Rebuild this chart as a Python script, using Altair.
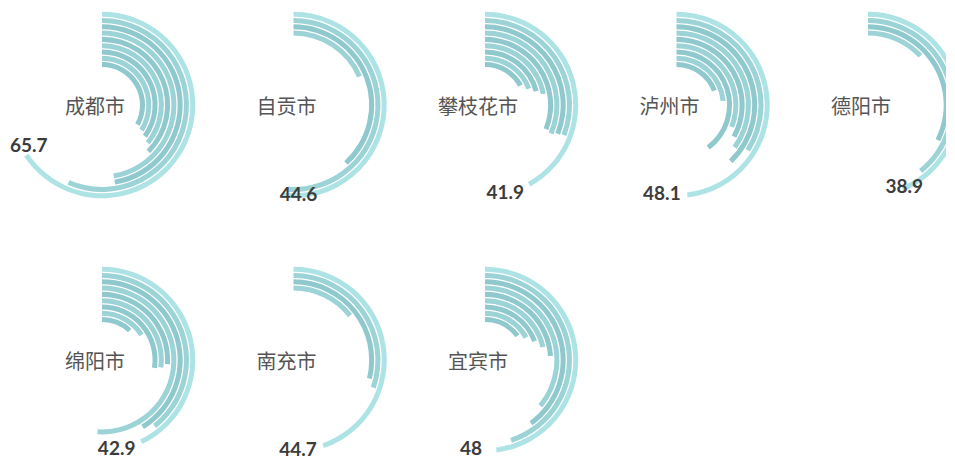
import math
import altair as alt
import pandas as pd

# ---- data ----
cities = ["成都市", "自贡市", "攀枝花市", "泸州市", "德阳市", "绵阳市", "南充市", "宜宾市"]
labels = [65.7, 44.6, 41.9, 48.1, 38.9, 42.9, 44.7, 48]

# ring values, innermost -> outermost (9 ring slots; None = no ring)
chengdu   = [33.0, 34.0, 35.0, 36.0, 37.5, 47.4, 47.4, 56.5, 65.7]
zigong    = [None, None, None, None, None, 18.5, 38.3, 51.0, 52.0]
panzhihua = [17.0, 19.3, 20.8, 22.0, 31.0, 31.5, 31.0, 30.8, 41.9]
luzhou    = [19.2, 23.6, 39.8, 31.0, 33.0, 35.0, 37.8, 34.0, 48.1]
deyang    = [None, None, None, None, None, 13.0, 32.4, 39.3, 43.8]
mianyang  = [12.0, 16.0, 27.4, 27.0, 26.0, 51.0, 41.3, 39.3, 42.9]
nanchong  = [None, None, None, None, None, 14.4, 28.8, 30.3, 44.7]
yibin     = [14.8, 17.0, 19.2, 21.5, 24.0, 36.0, 40.0, 45.0, 48.0]

series = [chengdu, zigong, panzhihua, luzhou, deyang, mianyang, nanchong, yibin]

rows = []
for city, lab, vals in zip(cities, labels, series):
    for ring, v in enumerate(vals):
        if v is None:
            continue
        rows.append({"city": city, "ring": ring, "value": v, "zero": 0,
                     "label": lab, "outer": ring == len(vals) - 1})
df = pd.DataFrame(rows)

theta_scale = alt.Scale(domain=[0, 100], range=[0, 2 * math.pi])
r_scale = alt.Scale(type="linear", domain=[0, 9], range=[38, 94.5])

num_style = dict(font="Lato", fontWeight="bold", fontSize=19, color="#3c3c3c", baseline="middle")
COLS = 5


def panel(i, city):
    base = alt.Chart().transform_filter(alt.datum.city == city)
    # the last column is cut at the page edge, as in the reference
    arcs = base.transform_calculate(
        ring_end="datum.ring + 0.8",
        tone="datum.outer ? 'outer' : (datum.ring % 2 == 0 ? 'a' : 'b')",
    ).mark_arc(clip=(i % COLS == COLS - 1)).encode(
        theta=alt.Theta("value:Q", scale=theta_scale, stack=None),
        theta2="zero:Q",
        radius=alt.Radius("ring:Q", scale=r_scale),
        radius2="ring_end:Q",
        color=alt.Color("tone:N", scale=alt.Scale(domain=["a", "b", "outer"],
                                                  range=["#8fc9cd", "#9bd3d6", "#aee3e5"]),
                        legend=None),
    )
    names = base.transform_filter("datum.outer").mark_text(
        font="Noto Sans CJK SC", fontSize=20, color="#555555", dx=-7, dy=3,
        baseline="middle", align="center",
    ).encode(text="city:N")
    num_right = base.transform_filter("datum.outer && datum.label <= 50").transform_calculate(
        pos="datum.label + 4.5"
    ).mark_text(align="center", **num_style).encode(
        theta=alt.Theta("pos:Q", scale=theta_scale, stack=None),
        radius=alt.value(90),
        text=alt.Text("label:Q"),
    )
    num_left = base.transform_filter("datum.outer && datum.label > 50").transform_calculate(
        pos="datum.label + 4.5"
    ).mark_text(align="left", dx=-6, dy=14, **num_style).encode(
        theta=alt.Theta("pos:Q", scale=theta_scale, stack=None),
        radius=alt.value(90),
        text=alt.Text("label:Q"),
    )
    return alt.layer(arcs, names, num_right, num_left).properties(width=156, height=190)


chart = alt.concat(
    *[panel(i, c) for i, c in enumerate(cities)], data=df, columns=COLS,
    spacing={"row": 65, "column": 35.5}, bounds="flush",
).properties(
    padding={"left": 2, "top": 2, "right": 0, "bottom": 0}
).configure_view(stroke=None)

chart.save("out.html", embed_options={"renderer": "svg", "actions": False})
